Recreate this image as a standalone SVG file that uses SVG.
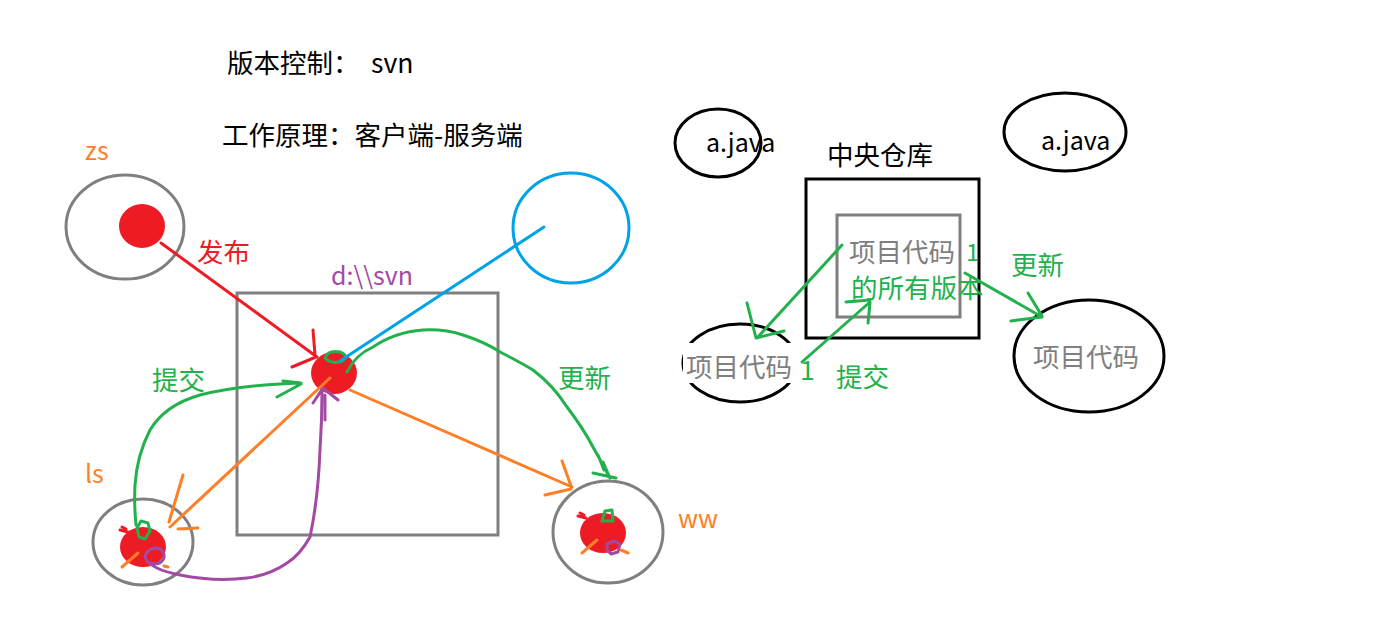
<svg xmlns="http://www.w3.org/2000/svg" width="1392" height="632" viewBox="0 0 1392 632">
<style>
text{font-family:"Noto Sans CJK SC","Liberation Sans",sans-serif;font-size:26.5px}
.t{fill:#000}
.g{fill:#22B14C}
.o{fill:#FF7F27}
.r{fill:#ED1C24}
.p{fill:#A349A4}
.gy{fill:#7F7F7F}
.sm{font-size:25px}
.ln{fill:none;stroke-width:3;stroke-linecap:round;stroke-linejoin:round}
.sg{stroke:#22B14C}.so{stroke:#FF7F27}.sr{stroke:#ED1C24}.sp{stroke:#A349A4}.sb{stroke:#00A2E8}
.gray{fill:none;stroke:#7F7F7F;stroke-width:3}
.blk{fill:none;stroke:#000;stroke-width:3}
.dot{fill:#ED1C24}
</style>
<rect width="1392" height="632" fill="#fff"/>
<g id="titles">
<text class="t" x="227" y="73">版本控制：</text>
<text class="t" x="371" y="73">svn</text>
<text class="t" x="222" y="145">工作原理：客户端-服务端</text>
</g>
<g id="zs">
<ellipse class="gray" cx="125" cy="227" rx="59" ry="52"/>
<ellipse class="dot" cx="142" cy="226" rx="23" ry="22"/>
<text class="o sm" x="85" y="160">zs</text>
</g>
<g id="server">
<rect class="gray" x="237" y="293" width="261" height="242"/>
<text class="p sm" x="331" y="285">d:\\svn</text>
<ellipse class="dot" cx="334" cy="373" rx="23" ry="21"/>
<path class="ln sg" d="M325,358 Q328,350 340,352 Q350,356 342,361 Q332,365 325,358"/>
</g>
<g id="client-blue">
<ellipse fill="none" stroke="#00A2E8" stroke-width="3" cx="571" cy="228" rx="58" ry="55"/>
</g>
<g id="ls">
<ellipse class="gray" cx="143" cy="542" rx="50" ry="43"/>
<ellipse class="dot" cx="143" cy="547" rx="23" ry="20"/>
<text class="o sm" x="85" y="483">ls</text>
<path class="ln sg" d="M137,528 L141,521 L148,523 L150,531 L145,539 L139,537 Z"/>
<path class="ln so" d="M122,567 L138,553"/>
<path class="ln so" d="M164,566 L168,567"/>
<path class="ln sr" d="M120,530 L128,532 M122,527 L126,529" stroke-width="2"/>
</g>
<g id="ww">
<ellipse class="gray" cx="608" cy="532" rx="55" ry="51"/>
<ellipse class="dot" cx="603" cy="533" rx="23" ry="20"/>
<text class="o sm" x="678" y="528">ww</text>
<path class="ln sg" d="M602,521 L605,511 L612,510 L613,521 Z"/>
<path class="ln sp" d="M607,544 L614,541 L620,544 L618,552 L611,554 L607,550 Z"/>
<path class="ln so" d="M582,553 L597,540"/>
<path class="ln so" d="M621,550 L628,553"/>
<path class="ln sr" d="M578,516 L586,518 M580,513 L584,515" stroke-width="2"/>
</g>
<g id="connectors">
<path class="ln sr" d="M161,243 L317,357 M313,330 L315,355 M292,367 L316,357"/>
<path class="ln sb" d="M544,227 L340,361"/>
<path class="ln sg" d="M347,372 Q355,355 373,347 Q395,332 423,330 Q445,329 463,335 Q485,342 500,352 Q520,362 533,370 Q553,385 567,407 Q583,428 593,447 Q603,465 610,478 M603,462 L610,478 M593,473 L616,478 M598,455 L604,470"/>
<path class="ln so" d="M350,390 L572,487 M562,461 L571,486 M545,495 L571,489"/>
<path class="ln sg" d="M136,525 Q134,505 135,485 Q137,455 150,430 Q165,405 200,395 Q240,385 300,383 M283,381 L301,383 M277,397 L301,384"/>
<path class="ln so" d="M330,378 L170,527 M183,475 L169,522 M178,529 L198,528"/>
<path class="ln sp" d="M322,392 Q322,420 320,450 Q318,500 310,537 Q300,555 287,563 Q270,575 247,578 Q215,582 180,575 Q165,572 157,568 M157,568 Q145,562 145,556 Q148,548 157,548 Q165,550 164,558 Q160,566 150,563 M313,403 L323,388 L338,400 M325,420 L325,395"/>
</g>
<g id="a-java-left">
<ellipse class="blk" cx="718" cy="143" rx="43" ry="34"/>
<text class="t sm" x="706" y="152">a.java</text>
</g>
<g id="a-java-right">
<ellipse class="blk" cx="1065" cy="132" rx="61" ry="39"/>
<text class="t sm" x="1041" y="150">a.java</text>
</g>
<g id="repo">
<text class="t" x="827" y="165">中央仓库</text>
<rect class="blk" x="806" y="179" width="173" height="159"/>
<rect class="gray" x="837" y="215" width="123" height="102"/>
<text class="gy" x="849" y="262">项目代码</text>
<text class="g" x="851" y="298">的所有版本</text>
<text class="g" x="966" y="261" style="font-size:24px">1</text>
</g>
<g id="local-left">
<ellipse class="blk" cx="740" cy="363" rx="57" ry="39"/>
<rect x="683" y="343" width="116" height="40" fill="#fff"/>
<text class="gy" x="686" y="377">项目代码</text>
<text class="g" x="800" y="380">1</text>
</g>
<g id="local-right">
<ellipse class="blk" cx="1089" cy="356" rx="75" ry="56"/>
<text class="gy" x="1033" y="367">项目代码</text>
</g>
<g id="connectors-right">
<path class="ln sg" d="M842,245 L757,338 M747,303 L756,338 L784,331"/>
<path class="ln sg" d="M802,362 L870,302 M846,302 L870,300 M868,323 L870,303"/>
<path class="ln sg" d="M965,273 L1042,317 M1028,293 L1042,316 M1011,321 L1042,317"/>
<text class="g" x="836" y="387">提交</text>
<text class="g" x="1011" y="275">更新</text>
</g>
<g id="labels-left">
<text class="r" x="197" y="262">发布</text>
<text class="g" x="152" y="390">提交</text>
<text class="g" x="558" y="388">更新</text>
</g>
</svg>
